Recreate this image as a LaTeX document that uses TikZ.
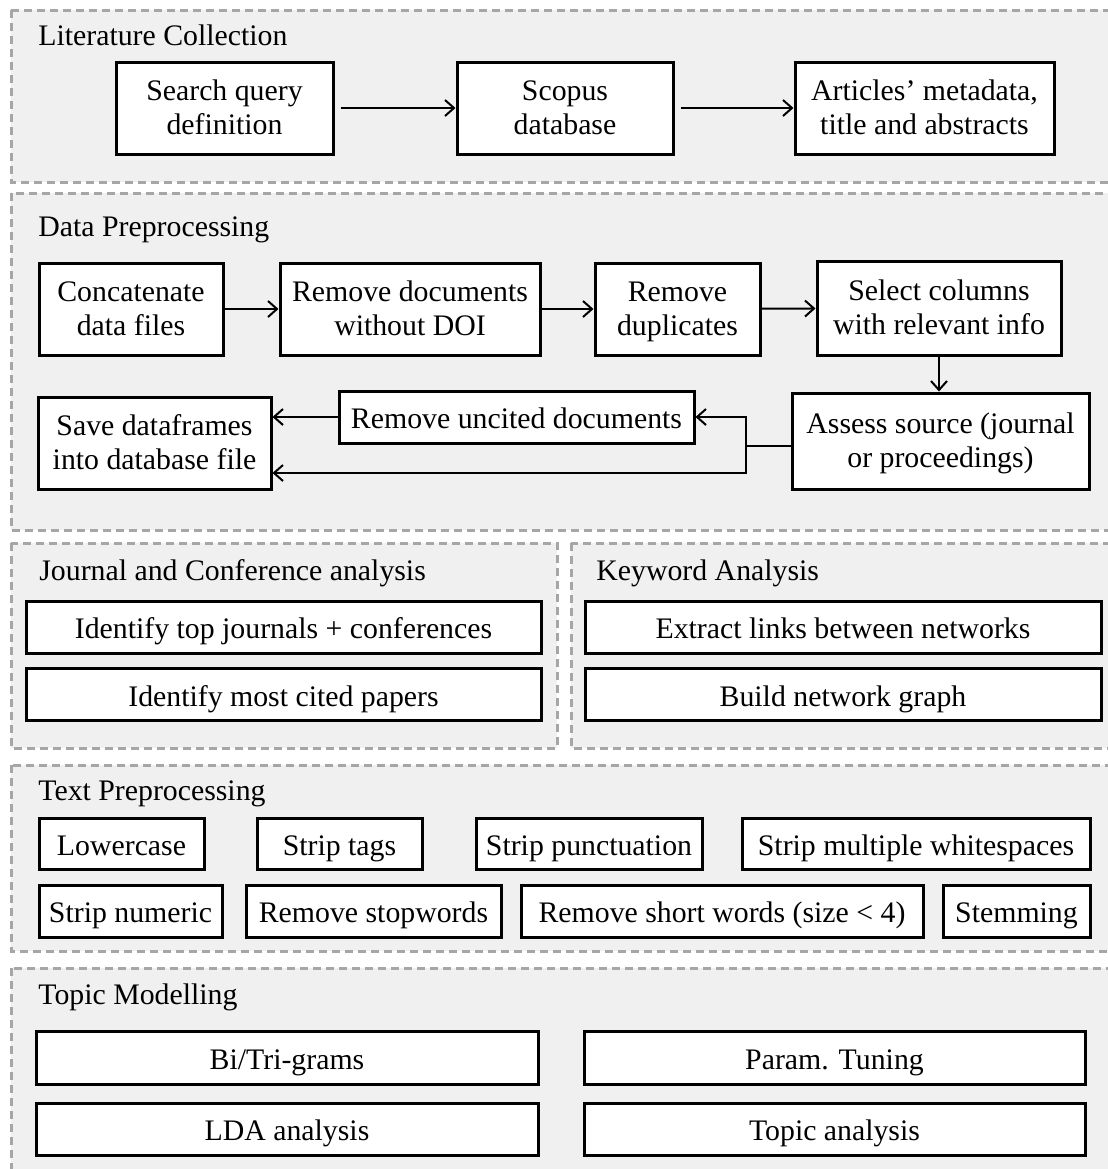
\documentclass[tikz,border=0pt]{standalone}
\usepackage{fontspec}
\setmainfont{Liberation Serif}
\usepackage{tikz}
\usetikzlibrary{arrows,arrows.meta,calc}
\tikzset{>={Straight Barb[length=4.5pt,width=8pt]}}
\definecolor{panelgray}{RGB}{240,240,240}
\definecolor{dashgray}{RGB}{166,166,166}
\tikzset{
  panel/.style={draw=dashgray, fill=panelgray, line width=1.5pt, dash pattern=on 4pt off 2.5pt},
  box/.style={draw, rectangle, fill=white, line width=1.5pt, align=center, inner sep=0pt},
  oneline/.style={box, text height=15pt, text depth=3.5pt},
  twoline/.style={box, text height=29.5pt, text depth=3.5pt},
  title/.style={anchor=base west, inner sep=0pt},
  flow/.style={->, line width=1pt},
}

\begin{document}
\begin{tikzpicture}[x=0.5pt, y=-0.5pt, font=\fontsize{14.9}{17}\selectfont]
    \useasboundingbox (0,0) rectangle (1108,1169);
    \clip (0,0) rectangle (1108,1169);
    \draw [panel] (11,10) rectangle (1130,182);
    \draw [panel] (11,193) rectangle (1130,530);
    \draw [panel] (11,543) rectangle (557,748);
    \draw [panel] (571,543) rectangle (1130,748);
    \draw [panel] (11,765) rectangle (1130,951);
    \draw [panel] (11,968) rectangle (1130,1200);

    \node [title] (tlit) at (38,45) {Literature Collection};
    \node [twoline, minimum width=108.5pt, minimum height=46pt](query) at (224.5,108) {Search query\\definition};
    \node [twoline, minimum width=108pt, minimum height=46pt](scopus) at (565,108) {Scopus\\database};
    \node [twoline, minimum width=129.5pt, minimum height=46pt](meta) at (924.5,108) {Articles' metadata,\\title and abstracts};
    \draw [flow, shorten <=3pt] (query) -- (scopus);
    \draw [flow, shorten <=3pt] (scopus) -- (meta);

    \node [title] (tdata) at (38,236) {Data Preprocessing};
    \node [twoline, minimum width=92pt, minimum height=46pt](concat) at (131,309) {Concatenate\\data files};
    \node [twoline, minimum width=130pt, minimum height=46pt](nodoi) at (410,309) {Remove documents\\without DOI};
    \node [twoline, minimum width=82.5pt, minimum height=46pt](dup) at (677.5,309) {Remove\\duplicates};
    \node [twoline, minimum width=122pt, minimum height=47pt](select) at (939,308) {Select columns\\with relevant info};
    \node [twoline, minimum width=148.5pt, minimum height=48pt](assess) at (940.5,441) {Assess source (journal\\or proceedings)};
    \node [oneline, minimum width=177.5pt, minimum height=26pt](uncited) at (516.5,417) {Remove uncited documents};
    \node [twoline, minimum width=116.5pt, minimum height=46pt](save) at (154.5,443) {Save dataframes\\into database file};
    \draw [flow] (concat) -- (nodoi);
    \draw [flow] (nodoi) -- (dup);
    \draw [flow] (dup) -- (select);
    \draw [flow] (select.south) -- (select.south |- assess.north);
    \coordinate (split) at (746,446);
    \draw [line width=1pt] (split -| assess.west) -- (split);
    \draw [flow] (split) |- (uncited.east);
    \draw [flow] (split) |- ($(save.east)+(0,30)$);
    \draw [flow] (uncited.west) -- (uncited.west -| save.east);

    \node [title] (tjour) at (39,580) {Journal and Conference analysis};
    \node [oneline, minimum width=257.5pt, minimum height=26pt](topjour) at (283.5,627) {Identify top journals + conferences};
    \node [oneline, minimum width=257.5pt, minimum height=26pt](cited) at (283.5,694.5) {Identify most cited papers};
    \node [title] (tkey) at (596,580) {Keyword Analysis};
    \node [oneline, minimum width=258pt, minimum height=26pt](links) at (843,627) {Extract links between networks};
    \node [oneline, minimum width=258pt, minimum height=26pt](graph) at (843,694.5) {Build network graph};

    \node [title] (ttext) at (38,800) {Text Preprocessing};
    \node [oneline, minimum width=82.5pt, minimum height=25.5pt](lower) at (121.5,843.5) {Lowercase};
    \node [oneline, minimum width=82.5pt, minimum height=25.5pt](tags) at (339.5,843.5) {Strip tags};
    \node [oneline, minimum width=113pt, minimum height=25.5pt](punct) at (589,843.5) {Strip punctuation};
    \node [oneline, minimum width=174pt, minimum height=25.5pt](white) at (916,843.5) {Strip multiple whitespaces};
    \node [oneline, minimum width=91.5pt, minimum height=26pt](numeric) at (130.5,911) {Strip numeric};
    \node [oneline, minimum width=127.5pt, minimum height=26pt](stop) at (373.5,911) {Remove stopwords};
    \node [oneline, minimum width=201pt, minimum height=26pt](short) at (722,911) {Remove short words (size < 4)};
    \node [oneline, minimum width=73.5pt, minimum height=26pt](stem) at (1016.5,911) {Stemming};

    \node [title] (ttopic) at (38,1004) {Topic Modelling};
    \node [oneline, minimum width=251pt, minimum height=26.5pt](bigram) at (287,1057.5) {Bi/Tri-grams};
    \node [oneline, minimum width=251pt, minimum height=26pt](lda) at (287,1129) {LDA analysis};
    \node [oneline, minimum width=250.5pt, minimum height=26.5pt](param) at (834.5,1057.5) {Param. Tuning};
    \node [oneline, minimum width=250.5pt, minimum height=26pt](topic) at (834.5,1129) {Topic analysis};
\end{tikzpicture}
\end{document}
